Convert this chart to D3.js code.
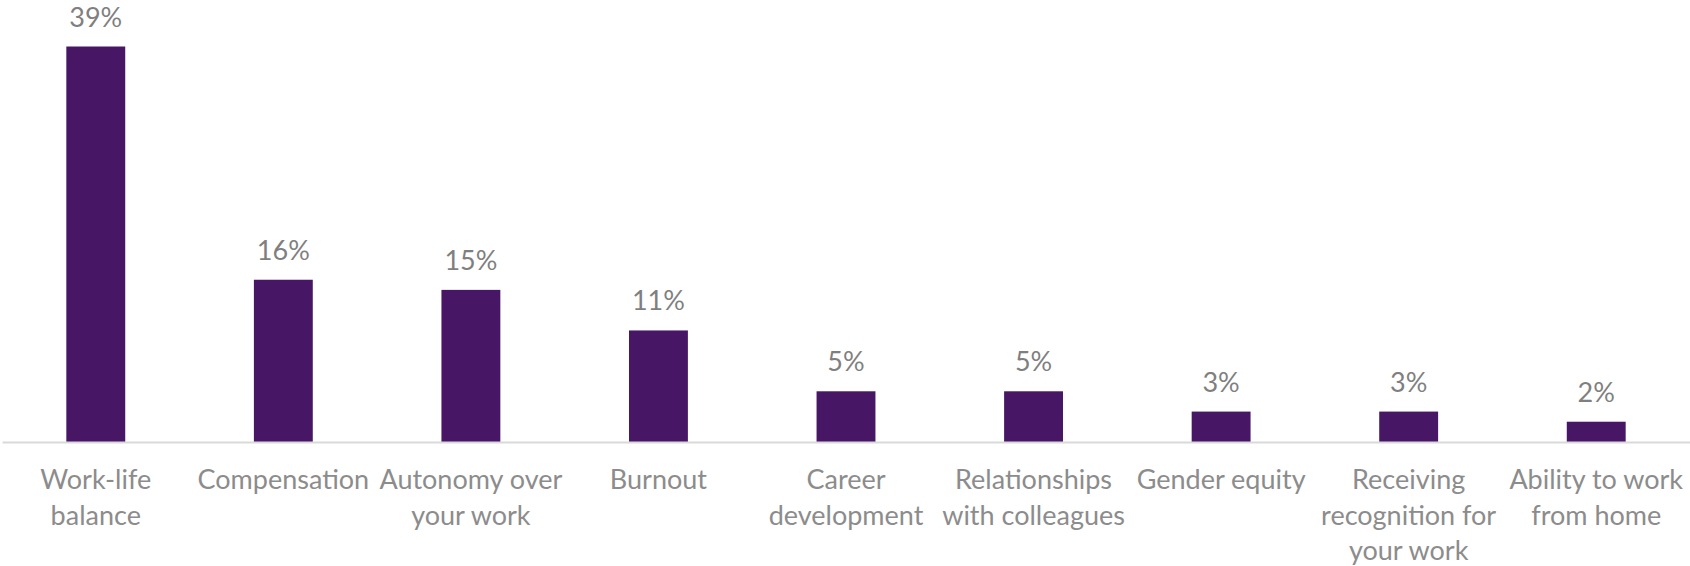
<!DOCTYPE html>
<html>
<head>
<meta charset="utf-8">
<script src="https://cdn.jsdelivr.net/npm/d3@7"></script>
<style>
	body { margin: 0; background: #fff; }
	svg { display: block; }
</style>
</head>
<body>
<svg width="1690" height="566"></svg>
<script>
var categories = ["Work-life balance", "Compensation", "Autonomy over your work", "Burnout",
	"Career development", "Relationships with colleagues", "Gender equity",
	"Receiving recognition for your work", "Ability to work from home"];
var values = [39, 16, 15, 11, 5, 5, 3, 3, 2];
var tickLines = [
	["Work-life", "balance"],
	["Compensation"],
	["Autonomy over", "your work"],
	["Burnout"],
	["Career", "development"],
	["Relationships", "with colleagues"],
	["Gender equity"],
	["Receiving", "recognition for", "your work"],
	["Ability to work", "from home"]
];

function drawPlot() {
	var svg = d3.select("svg");
	var font = "Lato, 'Open Sans', sans-serif";
	var fontSize = 27;

	var x = d3.scaleBand()
		.domain(categories)
		.range([2, 1690])
		.paddingInner(0.686)
		.paddingOuter(0.343);
	var y = d3.scaleLinear()
		.domain([0, 39])
		.range([442, 46.5]);

	svg.append("g").selectAll("rect").data(values)
		.enter().append("rect")
		.attr("x", (d, i) => x(categories[i]))
		.attr("y", d => y(d))
		.attr("width", x.bandwidth())
		.attr("height", d => y(0) - y(d))
		.style("fill", "#471765");

	svg.append("g").selectAll("text").data(values)
		.enter().append("text")
		.attr("x", (d, i) => x(categories[i]) + x.bandwidth() / 2)
		.attr("y", d => y(d) - 20)
		.attr("text-anchor", "middle")
		.style("font-family", font)
		.style("font-size", fontSize + "px")
		.style("fill", "#7f7f7f")
		.text(d => d + "%");

	var axis = svg.append("g")
		.attr("transform", "translate(0," + y(0) + ")")
		.call(d3.axisBottom(x).tickSize(0).tickSizeOuter(0).tickFormat(""));
	axis.select(".domain")
		.style("stroke", "#d9d9d9")
		.style("stroke-width", 2);

	axis.selectAll(".tick text").remove();
	axis.selectAll(".tick").each(function(d, i) {
		var t = d3.select(this).append("text")
			.attr("text-anchor", "middle")
			.attr("y", 47)
			.style("font-family", font)
			.style("font-size", fontSize + "px")
			.style("fill", "#8c8c8c");
		t.selectAll("tspan").data(tickLines[i])
			.enter().append("tspan")
			.attr("x", 0)
			.attr("dy", (l, j) => j == 0 ? 0 : 35.7)
			.text(l => l);
	});
}
drawPlot();
</script>
</body>
</html>
